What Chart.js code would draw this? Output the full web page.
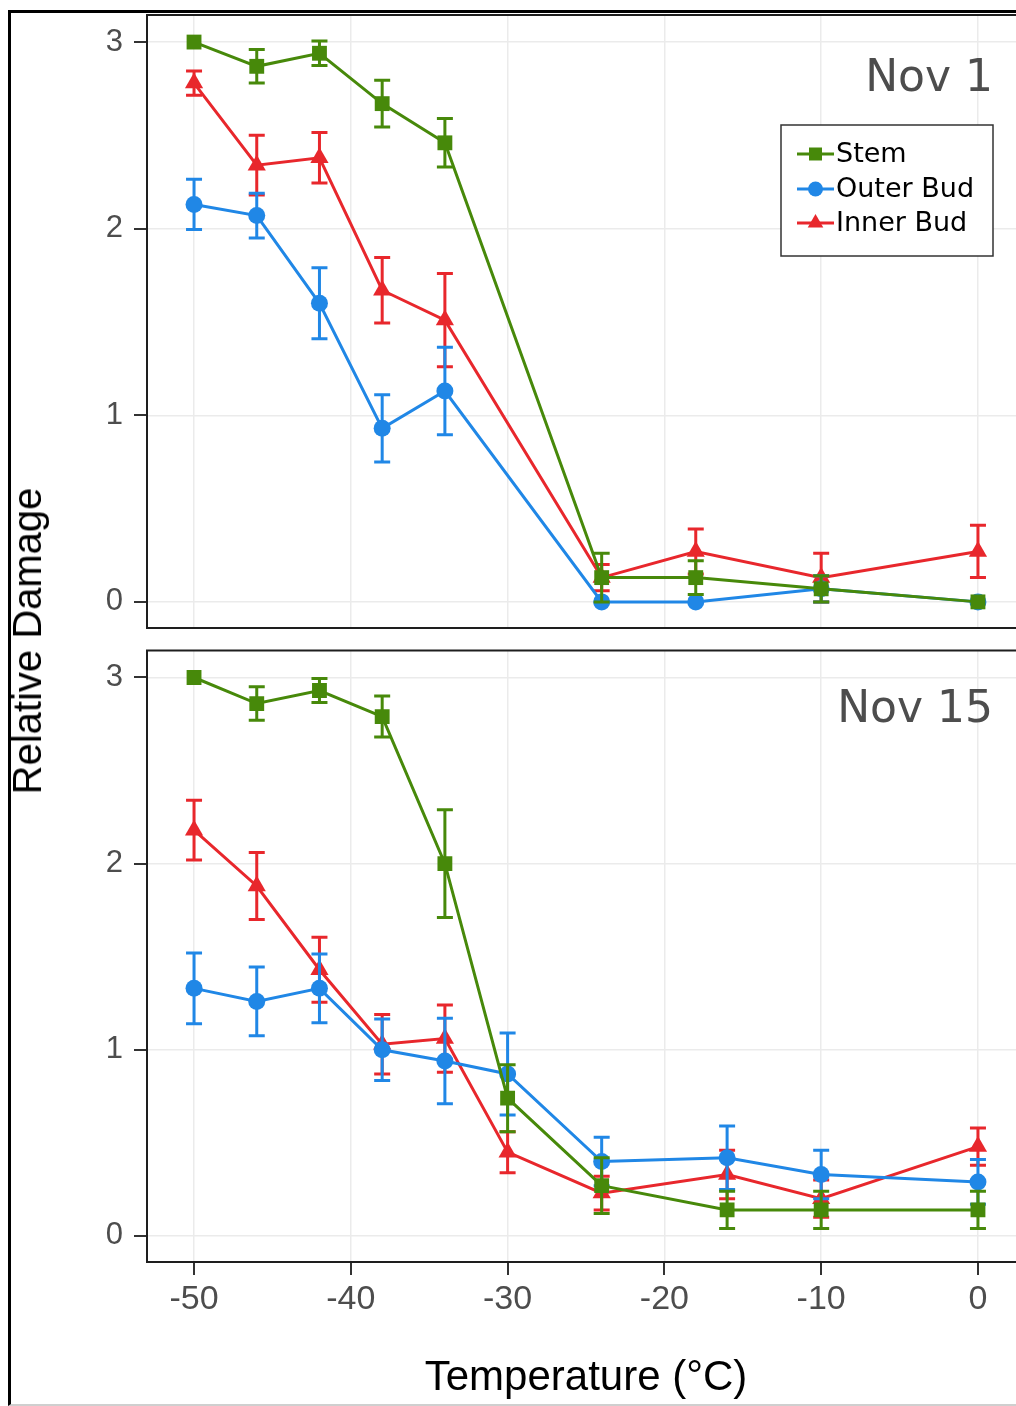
<!DOCTYPE html>
<html><head><meta charset="utf-8">
<script src="https://cdn.jsdelivr.net/npm/chart.js@4.4.1/dist/chart.umd.min.js"></script>
<style>
html,body{margin:0;padding:0;background:#fff;}
body{width:1016px;height:1406px;overflow:hidden;position:relative;}
#frame{position:absolute;left:8px;top:10px;width:1100px;height:1391px;border-left:3px solid #000;border-top:3px solid #000;border-bottom:2px solid #cfcfcf;}
canvas{position:absolute;left:0;}
#c1{top:0;}
#c2{top:640px;}
#ytitle{position:absolute;left:27px;top:641px;transform:translate(-50%,-50%) rotate(-90deg);font:40px Arial,"Liberation Sans",sans-serif;line-height:1;white-space:nowrap;color:#000;}
</style></head>
<body>
<div id="frame"></div>
<canvas id="c1" width="1040" height="640"></canvas>
<canvas id="c2" width="1040" height="766"></canvas>
<div id="ytitle">Relative Damage</div>
<script>
// ---- data ----
const seriesLabels = ['Stem', 'Outer Bud', 'Inner Bud'];
const panelLabels = ['Nov 1', 'Nov 15'];
const xTickValues = [-50, -40, -30, -20, -10, 0];
const yTickValues = [0, 1, 2, 3];
const xTitle = 'Temperature (°C)';

const tempsNov1 = [-50, -46, -42, -38, -34, -24, -18, -10, 0];
const stemNov1 = [3.00, 2.87, 2.94, 2.67, 2.46, 0.13, 0.13, 0.07, 0.00];
const stemErrNov1 = [0, 0.09, 0.065, 0.125, 0.13, 0.13, 0.09, 0.07, 0];
const outerNov1 = [2.13, 2.07, 1.60, 0.93, 1.13, 0.00, 0.00, 0.07, 0.00];
const outerErrNov1 = [0.135, 0.12, 0.19, 0.18, 0.235, 0, 0, 0.07, 0];
const innerNov1 = [2.78, 2.34, 2.38, 1.67, 1.51, 0.13, 0.27, 0.13, 0.27];
const innerErrNov1 = [0.065, 0.16, 0.135, 0.175, 0.25, 0.07, 0.12, 0.13, 0.14];

const tempsNov15 = [-50, -46, -42, -38, -34, -30, -24, -16, -10, 0];
const stemNov15 = [3.00, 2.86, 2.93, 2.79, 2.00, 0.74, 0.27, 0.14, 0.14, 0.14];
const stemErrNov15 = [0, 0.09, 0.065, 0.11, 0.29, 0.18, 0.15, 0.10, 0.10, 0.10];
const outerNov15 = [1.33, 1.26, 1.33, 1.00, 0.94, 0.87, 0.40, 0.42, 0.33, 0.29];
const outerErrNov15 = [0.19, 0.185, 0.185, 0.165, 0.23, 0.22, 0.13, 0.17, 0.13, 0.12];
const innerNov15 = [2.18, 1.88, 1.43, 1.03, 1.06, 0.45, 0.23, 0.33, 0.20, 0.48];
const innerErrNov15 = [0.16, 0.18, 0.175, 0.16, 0.18, 0.11, 0.09, 0.13, 0.10, 0.10];

// ---- styles ----
const colors = ['#47890a', '#2087e6', '#e8272c'];
const pStyles = ['rect', 'circle', 'triangle'];
const pRadius = [10.5, 8.5, 10.5];
const tickFont = 'Arial, "Liberation Sans", sans-serif';
const labelFont = '"DejaVu Sans", Verdana, sans-serif';
const TICK_LEN = 13;

function pts(xs, ys) { return xs.map((x, i) => ({x: x, y: ys[i]})); }

function makeDatasets(temps, vals, errs) {
  return vals.map((v, k) => ({
    label: seriesLabels[k],
    data: pts(temps, v),
    errors: errs[k],
    borderColor: colors[k],
    backgroundColor: colors[k],
    borderWidth: 3,
    pointStyle: pStyles[k],
    pointRadius: pRadius[k],
    pointBorderWidth: 0,
    pointBackgroundColor: colors[k],
    pointBorderColor: colors[k],
    tension: 0,
    fill: false
  }));
}

const errorBars = {
  id: 'errorBars',
  beforeDatasetDraw(chart, args) {
    const ds = chart.data.datasets[args.index];
    if (!ds.errors) return;
    const ctx = chart.ctx, xs = chart.scales.x, ys = chart.scales.y;
    ctx.save();
    ctx.strokeStyle = ds.borderColor;
    ctx.lineWidth = 3;
    ds.data.forEach((p, i) => {
      const e = ds.errors[i];
      if (!e) return;
      const x = xs.getPixelForValue(p.x);
      const y1 = ys.getPixelForValue(p.y + e), y2 = ys.getPixelForValue(p.y - e);
      ctx.beginPath();
      ctx.moveTo(x, y1); ctx.lineTo(x, y2);
      ctx.moveTo(x - 8, y1); ctx.lineTo(x + 8, y1);
      ctx.moveTo(x - 8, y2); ctx.lineTo(x + 8, y2);
      ctx.stroke();
    });
    ctx.restore();
  }
};

const panelFrame = {
  id: 'panelFrame',
  afterDraw(chart, args, opts) {
    const a = chart.chartArea, ctx = chart.ctx;
    ctx.save();
    // axis tick marks (outside the panel), placed through the scales
    ctx.strokeStyle = '#333';
    ctx.lineWidth = 2;
    ctx.beginPath();
    chart.scales.y.ticks.forEach(t => {
      const y = Math.round(chart.scales.y.getPixelForValue(t.value));
      ctx.moveTo(a.left - TICK_LEN, y); ctx.lineTo(a.left, y);
    });
    if (opts.xticks) {
      chart.scales.x.ticks.forEach(t => {
        const x = Math.round(chart.scales.x.getPixelForValue(t.value));
        ctx.moveTo(x, a.bottom); ctx.lineTo(x, a.bottom + TICK_LEN);
      });
    }
    ctx.stroke();
    // panel border
    ctx.strokeStyle = '#1e1e1e';
    ctx.lineWidth = 2;
    ctx.strokeRect(a.left, a.top, a.right - a.left, a.bottom - a.top);
    // panel label
    ctx.fillStyle = '#4d4d4d';
    ctx.font = '44px ' + labelFont;
    ctx.textAlign = 'right';
    ctx.textBaseline = 'alphabetic';
    ctx.fillText(opts.text, 993, a.top + opts.baseline);
    if (opts.legend) {
      const L = {x: 781, y: 125, w: 212, h: 131};
      ctx.fillStyle = '#fff';
      ctx.fillRect(L.x, L.y, L.w, L.h);
      ctx.strokeStyle = '#333';
      ctx.lineWidth = 1.5;
      ctx.strokeRect(L.x, L.y, L.w, L.h);
      const rows = [154, 189, 223];
      chart.data.datasets.forEach((ds, k) => {
        const cy = rows[k];
        ctx.strokeStyle = ds.borderColor;
        ctx.lineWidth = 3;
        ctx.beginPath(); ctx.moveTo(797, cy); ctx.lineTo(834, cy); ctx.stroke();
        ctx.fillStyle = ds.borderColor;
        ctx.beginPath();
        if (ds.pointStyle === 'rect') { const s = 6.5; ctx.rect(815.5 - s, cy - s, 2 * s, 2 * s); }
        else if (ds.pointStyle === 'circle') { ctx.arc(815.5, cy, 7.5, 0, Math.PI * 2); }
        else { const r = 9; ctx.moveTo(815.5, cy - r); ctx.lineTo(815.5 + r * 0.866, cy + r / 2); ctx.lineTo(815.5 - r * 0.866, cy + r / 2); ctx.closePath(); }
        ctx.fill();
        ctx.fillStyle = '#000';
        ctx.font = '27px ' + labelFont;
        ctx.textAlign = 'left';
        ctx.textBaseline = 'middle';
        ctx.fillText(ds.label, 836, cy + 1);
      });
    }
    ctx.restore();
  }
};

function makeChart(id, temps, vals, errs, isBottom, label, baseline) {
  const grid = {color: '#ebebeb', lineWidth: 1.5, drawTicks: false};
  return new Chart(document.getElementById(id), {
    type: 'line',
    data: {datasets: makeDatasets(temps, vals, errs)},
    plugins: [errorBars, panelFrame],
    options: {
      responsive: false,
      animation: false,
      devicePixelRatio: 1,
      layout: {padding: isBottom ? {left: 0, top: 9, right: 15, bottom: 0} : {left: 0, top: 15, right: 15, bottom: 12}},
      plugins: {
        legend: {display: false},
        tooltip: {enabled: false},
        panelFrame: {text: label, baseline: baseline, legend: !isBottom, xticks: isBottom}
      },
      scales: {
        x: {
          type: 'linear',
          min: -53, max: 3,
          border: {display: false},
          grid: grid,
          afterBuildTicks: s => { s.ticks = xTickValues.map(v => ({value: v})); },
          ticks: {
            display: isBottom,
            font: {family: tickFont, size: 34},
            color: '#4d4d4d',
            padding: TICK_LEN + 4,
            maxRotation: 0,
            callback: v => String(v)
          },
          title: {
            display: isBottom,
            text: xTitle,
            font: {family: tickFont, size: 42},
            color: '#000',
            padding: {top: 0, bottom: 2}
          },
          afterFit: s => { s.height = isBottom ? 144 : 0; s.paddingLeft = 0; s.paddingRight = 0; }
        },
        y: {
          min: -0.14, max: 3.145,
          border: {display: false},
          grid: grid,
          afterBuildTicks: s => { s.ticks = yTickValues.map(v => ({value: v})); },
          ticks: {
            font: {family: tickFont, size: 31},
            color: '#4d4d4d',
            padding: TICK_LEN + 11,
            callback: v => String(v)
          },
          afterFit: s => { s.width = 147; s.paddingTop = 0; s.paddingBottom = 0; }
        }
      }
    }
  });
}

makeChart('c1', tempsNov1,
  [stemNov1, outerNov1, innerNov1],
  [stemErrNov1, outerErrNov1, innerErrNov1], false, panelLabels[0], 76);
makeChart('c2', tempsNov15,
  [stemNov15, outerNov15, innerNov15],
  [stemErrNov15, outerErrNov15, innerErrNov15], true, panelLabels[1], 71);
</script>
</body></html>
